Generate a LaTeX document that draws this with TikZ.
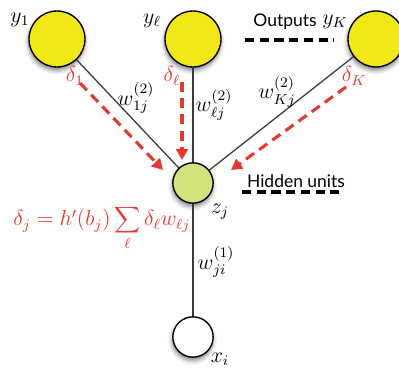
\documentclass[tikz,border=0pt]{standalone}
\usepackage{fontspec}
\newfontfamily\capfont{Lato}
\usepackage{tikz}
\usetikzlibrary{arrows.meta,shadows.blur}
\definecolor{unitYellow}{HTML}{F2E816}
\definecolor{unitGreen}{HTML}{D4E27C}
\definecolor{errRed}{HTML}{E8372C}
\definecolor{linkGray}{HTML}{3A3A3A}

\begin{document}
\begin{tikzpicture}[x=0.55pt,y=-0.55pt,
      unit/.style={circle,draw=black,line width=0.75pt,inner sep=0pt,
                  blur shadow={shadow xshift=-0.3pt,shadow yshift=-1.8pt,
                  shadow blur radius=2.4pt,shadow opacity=50}},
      outunit/.style={unit,fill=unitYellow,minimum size=30.8pt},
      hidunit/.style={unit,fill=unitGreen,minimum size=22.2pt},
      inunit/.style={unit,fill=white,minimum size=22.2pt},
      link/.style={linkGray,line width=0.7pt},
      backprop/.style={errRed,line width=1.7pt,dash pattern=on 5.5pt off 3.4pt,
                  -{Triangle[length=6pt,width=6.4pt]}},
      sepdash/.style={black,line width=1.7pt,dash pattern=on 5pt off 3.1pt},
      lbl/.style={font=\large,inner sep=0pt},
      errlbl/.style={lbl,text=errRed},
      caption/.style={font=\capfont\fontsize{9.6}{11}\selectfont,inner sep=0pt}]
    \useasboundingbox (0,0) rectangle (399,369);

    % units
    \node[outunit] (y1) at (57,39)   {};
    \node[outunit] (yl) at (193,39)  {};
    \node[outunit] (yK) at (376,39)  {};
    \node[hidunit] (zj) at (193,183) {};
    \node[inunit]  (xi) at (193,337) {};

    \draw[link] (y1) -- (zj);
    \draw[link] (yl) -- (zj);
    \draw[link] (yK) -- (zj);
    \draw[link] (zj) -- (xi);

    % errors sent back
    \coordinate (d1s) at (80,83);   \coordinate (d1e) at (163,170);
    \coordinate (dls) at (182,82);  \coordinate (dle) at (182,160);
    \coordinate (dKs) at (346,87);  \coordinate (dKe) at (231,170);
    \draw[backprop] (d1s) -- (d1e);
    \draw[backprop] (dls) -- (dle);
    \draw[backprop] (dKs) -- (dKe);

    \node[lbl] (ly1) at (20,20)  {$y_1$};
    \node[lbl] (lyl) at (152,21) {$y_\ell$};
    \node[lbl] (lyK) at (335,22) {$y_K$};
    \node[lbl] (lzj) at (220,212) {$z_j$};
    \node[lbl] (lxi) at (220,359) {$x_i$};

    \node[lbl] (w1j) at (136,98)  {$w^{(2)}_{1j}$};
    \node[lbl] (wlj) at (214,105) {$w^{(2)}_{\ell j}$};
    \node[lbl] (wKj) at (277,92)  {$w^{(2)}_{Kj}$};
    \node[lbl] (wji) at (216,262) {$w^{(1)}_{ji}$};

    \node[errlbl] (e1) at (75,76)  {$\delta_1$};
    \node[errlbl] (el) at (172,76) {$\delta_\ell$};
    \node[errlbl] (eK) at (354,76) {$\delta_K$};
    \node[errlbl,anchor=base west] (ej) at (13,226)
      {$\delta_j = h'(b_j)\displaystyle\sum_\ell \delta_\ell w_{\ell j}$};

    % layer captions
    \node[caption] (outs) at (285,22)  {Outputs};
    \node[caption] (hids) at (296,181) {Hidden units};
    \coordinate (os) at (245,40);  \coordinate (oe) at (334,40);
    \coordinate (hs) at (242,192); \coordinate (he) at (345,192);
    \draw[sepdash] (os) -- (oe);
    \draw[sepdash] (hs) -- (he);
  \end{tikzpicture}
\end{document}
